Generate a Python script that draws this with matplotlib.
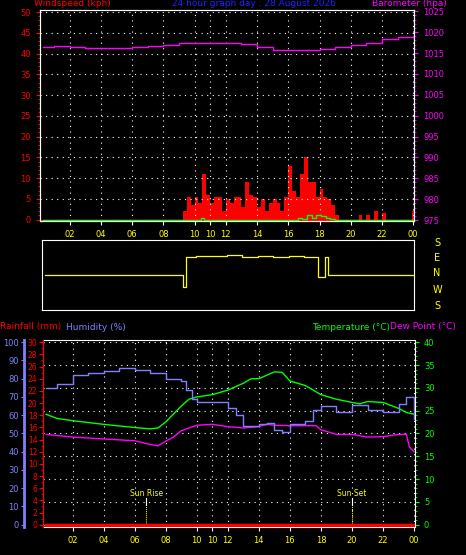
import matplotlib
matplotlib.use("Agg")
import matplotlib.pyplot as plt
import numpy as np

# ---------------- data ----------------
xtick_pos = [2, 4, 6, 8, 10, 11, 12, 14, 16, 18, 20, 22, 24]
xtick_lab = ["02", "04", "06", "08", "10", "10", "12", "14", "16", "18", "20", "22", "00"]

baro_h = [0.3, 1, 2, 3, 4, 5, 6, 7, 8, 9, 10, 11, 12, 13, 14, 15, 16, 17, 18, 19, 20, 21, 22, 23, 24]
baro_v = [1016.5, 1016.6, 1016.5, 1016.1, 1016.3, 1016.1, 1016.4, 1016.6, 1017.0, 1017.4, 1017.5, 1017.5,
          1017.5, 1017.1, 1016.5, 1015.7, 1015.6, 1015.6, 1016.0, 1016.4, 1016.8, 1017.4, 1018.3, 1018.8, 1019.0]

gust_h = [9.25, 9.5, 9.75, 10.0, 10.25, 10.5, 10.75, 11.0, 11.25, 11.5, 11.75, 12.0, 12.25, 12.5, 12.75,
          13.0, 13.25, 13.5, 13.75, 14.0, 14.25, 14.5, 14.75, 15.0, 15.25, 15.5, 15.75, 16.0, 16.25, 16.5,
          16.75, 17.0, 17.25, 17.5, 17.75, 18.0, 18.25, 18.5, 18.75, 19.0, 20.5, 21.0, 21.5, 22.0, 23.95]
gust_v = [2, 5.5, 3.5, 5.5, 4, 11, 6, 4, 5.5, 5.5, 2, 5, 4, 5.5, 5.5,
          3, 9, 6, 5.5, 3, 5, 2, 4, 5, 4, 2, 5.5, 13, 7, 5.5,
          11, 15, 9, 9, 5.5, 7.5, 5.5, 5, 3.5, 1, 1, 1, 2, 1.5, 2]

avg_h = [0.3, 10.2, 10.4, 10.6, 16.3, 16.6, 16.9, 17.2, 17.5, 17.8, 18.1, 18.4, 18.7, 19.0, 24.0]
avg_v = [0, 0, 0.5, 0, 0, 0.5, 0.2, 1, 0.5, 1, 0.8, 0.3, 0.2, 0, 0]

dir_h = [0.3, 9.1, 9.15, 9.35, 9.4, 10, 11, 12, 13, 14, 15, 16, 17, 17.85, 17.9, 18.25, 18.3, 18.45, 18.5, 24]
dir_v = [0, 0, -66, -66, 105, 110, 108, 112, 106, 110, 104, 108, 106, 105, -10, -10, 105, 105, 0, 0]

temp_h = [0.3, 1, 2, 4, 6, 7, 7.5, 8, 9, 9.5, 10, 11, 12, 13, 13.5, 14, 15, 15.5, 16, 17, 18, 19, 20,
          20.5, 21, 22, 23, 23.5, 24]
temp_v = [24.2, 23.3, 22.8, 22.0, 21.3, 21.0, 21.2, 22.5, 26.0, 27.5, 28.0, 28.5, 29.5, 31.0, 32.0, 32.0,
          33.5, 33.4, 31.5, 30.5, 28.5, 27.5, 26.8, 26.5, 27.0, 26.8, 25.5, 24.6, 24.2]

dew_h = [0.3, 2, 4, 6, 7, 7.5, 8, 8.5, 9, 10, 11, 12, 13, 14, 14.5, 15, 16, 17, 17.7, 18, 19, 20, 21, 22,
         23, 23.5, 23.7, 24]
dew_v = [19.8, 19.2, 18.8, 18.4, 17.6, 17.3, 18.3, 19.2, 20.6, 21.8, 22.0, 21.5, 21.2, 21.5, 22.0, 21.8,
         21.7, 21.7, 21.7, 20.8, 19.8, 19.8, 19.2, 19.3, 19.8, 19.8, 17.0, 16.0]

hum_h = [0.3, 1, 2, 3, 4, 5, 6, 7, 8, 9, 9.3, 9.7, 10, 11, 12, 12.5, 13, 14, 14.5, 15, 15.5, 16, 17, 17.5,
         18, 19, 20, 21, 22, 23, 23.5, 23.8, 24]
hum_v = [75, 77, 82, 83, 84, 86, 85, 83, 80, 78.5, 74, 69, 67.5, 67, 64, 60, 54, 55, 56, 52, 51, 55, 57, 63,
         65, 62, 65.5, 63, 62, 66, 70, 70, 58]

rain_h = [0.3, 24]
rain_v = [0, 0]

sun_rise, sun_set = 6.75, 20.0

# ---------------- figure ----------------
BG = "black"
W, H = 466, 555
fig = plt.figure(figsize=(4.66, 5.55), dpi=100, facecolor=BG)
XL = (0.1, 24.05)
fs = 6

def style_x(ax, labels=True):
    ax.set_facecolor(BG)
    ax.set_xlim(*XL)
    ax.set_xticks(xtick_pos)
    ax.set_xticklabels(xtick_lab if labels else [])
    ax.tick_params(axis="x", colors="white", labelcolor="yellow", labelsize=fs, length=3)
    for s in ax.spines.values():
        s.set_color("white")

def ftext(x, y, s, **kw):
    fig.text(x / W, 1 - y / H, s, **kw)

# ---- top panel ----
ax1 = fig.add_axes([0.0858, 0.602, 0.8026, 0.380])
style_x(ax1)
ax1.set_ylim(-0.3, 50.5)
ax1.set_yticks(range(0, 51, 5))
ax1.tick_params(axis="y", colors="red", labelsize=fs, length=3)
ax1.set_yticks(np.arange(0, 51, 1), minor=True)
ax1.tick_params(axis="y", which="minor", colors="red", length=1.5)
ax1.grid(True, color="white", linestyle=(0, (1, 4)), linewidth=0.8)
ax1.plot(XL, [0, 0], color="red", lw=1)
ax1.bar(gust_h, gust_v, width=0.25, color="red", align="edge")
ax1.step(avg_h, avg_v, where="post", color="#00ff00", lw=1)
ax1b = ax1.twinx()
ax1b.set_ylim(974.8, 1025.3)
ax1b.set_yticks(range(975, 1026, 5))
ax1b.tick_params(axis="y", colors="magenta", labelsize=fs, length=3)
ax1b.set_yticks(np.arange(975, 1026, 1), minor=True)
ax1b.tick_params(axis="y", which="minor", colors="magenta", length=1.5)
ax1b.step(baro_h, baro_v, where="post", color="magenta", lw=1)
for s in ax1b.spines.values():
    s.set_color("white")
ftext(34, 4, "Windspeed (kph)", color="red", fontsize=6.5, va="center")
ftext(172, 4, "24 hour graph day : 28 August 2026", color="#2020ff", fontsize=6.5, va="center")
ftext(372, 4, "Barometer (hpa)", color="magenta", fontsize=6.5, va="center")

# ---- middle panel (wind direction) ----
ax2 = fig.add_axes([0.0901, 0.4414, 0.798, 0.126])
ax2.set_facecolor(BG)
ax2.set_xlim(*XL)
ax2.set_ylim(-200, 200)
ax2.set_xticks([]); ax2.set_yticks([])
for s in ax2.spines.values():
    s.set_color("white")
ax2.step(dir_h, dir_v, where="post", color="yellow", lw=0.9)
for y, lab in zip([243, 258, 273, 290, 306], ["S", "E", "N", "W", "S"]):
    ftext(437, y, lab, color="yellow", fontsize=7, ha="center", va="center")

# ---- bottom panel ----
ax3 = fig.add_axes([0.0923, 0.0505, 0.798, 0.337])
style_x(ax3)
ax3r = ax3.twinx()
ax3h = ax3.twinx()

ax3.set_ylim(-0.5, 40.5)
ax3.yaxis.tick_right()
ax3.set_yticks(range(0, 41, 5))
ax3.tick_params(axis="y", colors="#00ff00", labelsize=fs, length=3)
ax3.set_yticks(np.arange(0, 41, 1), minor=True)
ax3.tick_params(axis="y", which="minor", colors="#00ff00", length=1.5)
ax3.grid(True, color="white", linestyle=(0, (1, 4)), linewidth=0.8)
ax3.plot(temp_h, temp_v, color="#00ff00", lw=1)
ax3.plot(dew_h, dew_v, color="magenta", lw=1)
for t, lab in [(sun_rise, "Sun Rise"), (sun_set, "Sun Set")]:
    ax3.plot([t, t], [0, 4.3], color="yellow", lw=0.7, linestyle=(0, (1, 1)))
    ax3.plot([t, t], [4.3, 5.8], color="white", lw=0.8)
    ax3.text(t, 6.3, lab, color="yellow", fontsize=5.5, ha="center")

ax3r.yaxis.tick_left()
ax3r.set_ylim(-0.375, 30.375)
ax3r.set_yticks(range(0, 31, 2))
ax3r.tick_params(axis="y", colors="red", labelsize=5.5, length=3, pad=1)
ax3r.set_yticks(np.arange(0, 31, 1), minor=True)
ax3r.tick_params(axis="y", which="minor", colors="red", length=1.5)
ax3r.spines["left"].set_position(("outward", 0))
ax3r.spines["left"].set_color("red")
ax3r.plot(rain_h, rain_v, color="red", lw=2.5, zorder=5)
for k in ["right", "top", "bottom"]:
    ax3r.spines[k].set_visible(False)

ax3h.yaxis.tick_left()
ax3h.set_ylim(-1.25, 101.25)
ax3h.set_yticks(range(0, 101, 10))
ax3h.tick_params(axis="y", colors="#8080ff", labelsize=fs, length=2.5, pad=1)
ax3h.spines["left"].set_position(("outward", 14))
ax3h.spines["left"].set_color("#8080ff")
ax3h.spines["left"].set_linewidth(2)
for k in ["right", "top", "bottom"]:
    ax3h.spines[k].set_visible(False)
ax3h.step(hum_h, hum_v, where="post", color="#8080ff", lw=1)

ftext(0, 327, "Rainfall (mm)", color="red", fontsize=6.5, va="center")
ftext(66, 327, "Humidity (%)", color="#8080ff", fontsize=6.5, va="center")
ftext(312, 327, "Temperature (°C)", color="#00ff00", fontsize=6.5, va="center")
ftext(390, 327, "Dew Point (°C)", color="magenta", fontsize=6.5, va="center")

fig.savefig("out.png", dpi=100, facecolor=BG)
